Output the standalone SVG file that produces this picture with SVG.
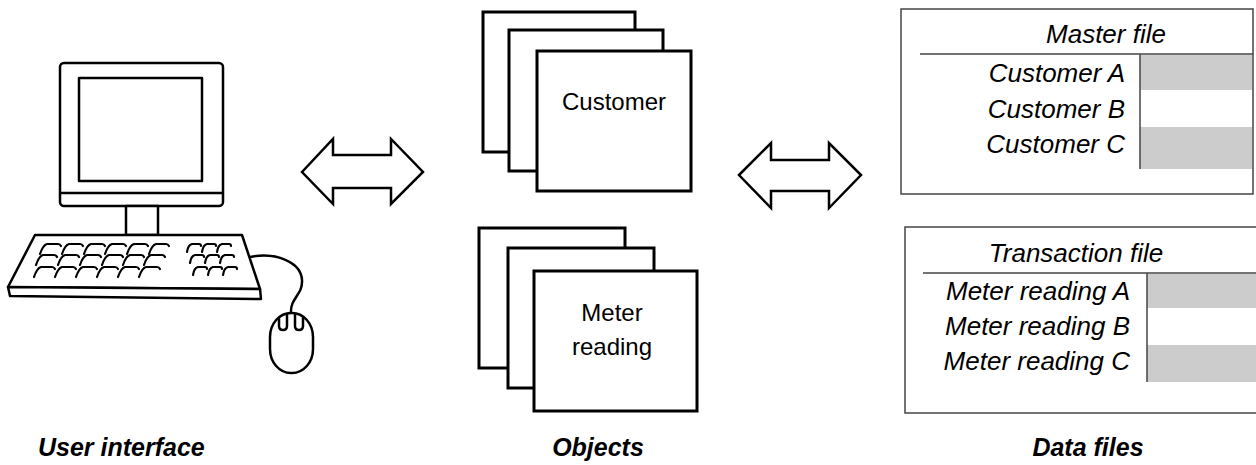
<svg xmlns="http://www.w3.org/2000/svg" width="1256" height="465" viewBox="0 0 1256 465">
<style>
.ln{fill:none;stroke:#000;stroke-width:2.5;stroke-linejoin:round;stroke-linecap:round}
.wf{fill:#fff;stroke:#000;stroke-width:2.5;stroke-linejoin:round}
.key{fill:none;stroke:#000;stroke-width:2.2;stroke-linecap:round}
.obj{fill:#fff;stroke:#000;stroke-width:3}
.arr{fill:#fff;stroke:#000;stroke-width:2.5;stroke-linejoin:miter}
.fbox{fill:#fff;stroke:#444;stroke-width:1.5}
.rule{stroke:#444;stroke-width:1.5;fill:none}
.grey{fill:#cccccc}
.t{font-family:"Liberation Sans",Arial,sans-serif;fill:#000}
.reg{font-size:24px}
.it{font-size:26px;font-style:italic}
.lbl{font-size:25px;font-style:italic;font-weight:bold}
</style>
<rect width="1256" height="465" fill="#fff"/>

<g id="computer">
  <rect class="wf" x="60" y="63" width="163" height="143" rx="4"/>
  <rect class="ln" x="79" y="78" width="123" height="103"/>
  <line class="ln" x1="61" y1="193" x2="222" y2="193"/>
  <rect class="wf" x="126" y="206" width="32" height="29"/>
  <path class="wf" d="M35,235 L242,235 L260,289 L8,287 Z"/>
  <path class="wf" d="M8,287 L10,296 L261,299 L260,289 Z"/>
  <g id="keys">
    <path class="key" d="M40,254 Q43,245 47,244 L58,244 Q60,244 61,246"/>
    <path class="key" d="M62,254 Q65,245 69,244 L80,244 Q82,244 83,246"/>
    <path class="key" d="M84,254 Q87,245 91,244 L102,244 Q104,244 105,246"/>
    <path class="key" d="M105,254 Q108,245 112,244 L123,244 Q125,244 126,246"/>
    <path class="key" d="M127,254 Q130,245 134,244 L145,244 Q147,244 148,246"/>
    <path class="key" d="M149,254 Q152,245 156,244 L166,244 Q168,244 169,246"/>
    <path class="key" d="M36,265 Q39,256 43,255 L54,255 Q56,255 57,257"/>
    <path class="key" d="M58,265 Q61,256 65,255 L76,255 Q78,255 79,257"/>
    <path class="key" d="M80,265 Q83,256 87,255 L98,255 Q100,255 101,257"/>
    <path class="key" d="M102,265 Q105,256 109,255 L120,255 Q122,255 123,257"/>
    <path class="key" d="M123,265 Q126,256 130,255 L141,255 Q143,255 144,257"/>
    <path class="key" d="M144,265 Q147,256 151,255 L162,255 Q164,255 165,257"/>
    <path class="key" d="M34,277 Q37,268 41,267 L52,267 Q54,267 55,269"/>
    <path class="key" d="M55,277 Q58,268 62,267 L73,267 Q75,267 76,269"/>
    <path class="key" d="M76,277 Q79,268 83,267 L94,267 Q96,267 97,269"/>
    <path class="key" d="M97,277 Q100,268 104,267 L115,267 Q117,267 118,269"/>
    <path class="key" d="M118,277 Q121,268 125,267 L136,267 Q138,267 139,269"/>
    <path class="key" d="M139,277 Q142,268 146,267 L157,267 Q159,267 160,269"/>
    <path class="key" d="M187,252 Q188,245 192,244 L199,244 Q201,244 201,246"/>
    <path class="key" d="M202,252 Q203,245 207,244 L214,244 Q216,244 216,246"/>
    <path class="key" d="M217,252 Q218,245 222,244 L229,244 Q231,244 231,246"/>
    <path class="key" d="M190,263 Q191,256 195,255 L202,255 Q204,255 204,257"/>
    <path class="key" d="M205,263 Q206,256 210,255 L217,255 Q219,255 219,257"/>
    <path class="key" d="M220,263 Q221,256 225,255 L232,255 Q234,255 234,257"/>
    <path class="key" d="M193,275 Q194,268 198,267 L205,267 Q207,267 207,269"/>
    <path class="key" d="M208,275 Q209,268 213,267 L220,267 Q222,267 222,269"/>
    <path class="key" d="M223,275 Q224,268 228,267 L235,267 Q237,267 237,269"/>
  </g>
  <path class="ln" stroke-width="2" d="M250,257 C276,252 301,262 302,280 C303,295 290,298 291,313"/>
  <rect class="wf" x="270" y="313" width="43" height="60" rx="21" ry="24"/>
  <path class="ln" stroke-width="2" d="M279,318 L279,326 Q279,330 283,330 Q287,330 287,326 L287,315"/>
  <path class="ln" stroke-width="2" d="M295,315 L295,326 Q295,330 299,330 Q303,330 303,326 L303,318"/>
</g>

<g id="customer-objects">
  <rect class="obj" x="483" y="12" width="152" height="140"/>
  <rect class="obj" x="509" y="30" width="154" height="141"/>
  <rect class="obj" x="537" y="51" width="154" height="140"/>
  <text class="t reg" x="614" y="110" text-anchor="middle">Customer</text>
</g>

<g id="meter-objects">
  <rect class="obj" x="479" y="228" width="146" height="140"/>
  <rect class="obj" x="508" y="248" width="146" height="140"/>
  <rect class="obj" x="534" y="271" width="163" height="140"/>
  <text class="t reg" x="612" y="321" text-anchor="middle">Meter</text>
  <text class="t reg" x="612" y="355" text-anchor="middle">reading</text>
</g>

<g id="master-file">
  <rect class="fbox" x="901" y="9" width="352" height="185"/>
  <rect class="grey" x="1140" y="55" width="112" height="35"/>
  <rect class="grey" x="1140" y="127" width="112" height="42"/>
  <line class="rule" x1="920" y1="54" x2="1253" y2="54"/>
  <line class="rule" x1="1140" y1="54" x2="1140" y2="169"/>
  <text class="t it" x="1106" y="43" text-anchor="middle">Master file</text>
  <text class="t it" x="1125" y="82" text-anchor="end">Customer A</text>
  <text class="t it" x="1125" y="118" text-anchor="end">Customer B</text>
  <text class="t it" x="1125" y="153" text-anchor="end">Customer C</text>
</g>

<g id="transaction-file">
  <rect class="fbox" x="905" y="227" width="360" height="186"/>
  <rect class="grey" x="1147" y="274" width="110" height="34"/>
  <rect class="grey" x="1147" y="345" width="110" height="37"/>
  <line class="rule" x1="923" y1="273" x2="1256" y2="273"/>
  <line class="rule" x1="1147" y1="273" x2="1147" y2="382"/>
  <text class="t it" x="1076" y="262" text-anchor="middle">Transaction file</text>
  <text class="t it" x="1130" y="300" text-anchor="end">Meter reading A</text>
  <text class="t it" x="1130" y="335" text-anchor="end">Meter reading B</text>
  <text class="t it" x="1130" y="370" text-anchor="end">Meter reading C</text>
</g>

<g id="connectors">
  <polygon class="arr" points="302,172 333,139 333,155 391,155 391,139 423,172 391,204 391,188 333,188 333,204"/>
  <polygon class="arr" points="739,175 771,143 771,160 829,160 829,143 861,175 829,208 829,191 771,191 771,208"/>
</g>

<g id="labels">
  <text class="t lbl" x="38" y="456">User interface</text>
  <text class="t lbl" x="598" y="456" text-anchor="middle">Objects</text>
  <text class="t lbl" x="1088" y="456" text-anchor="middle">Data files</text>
</g>
</svg>
